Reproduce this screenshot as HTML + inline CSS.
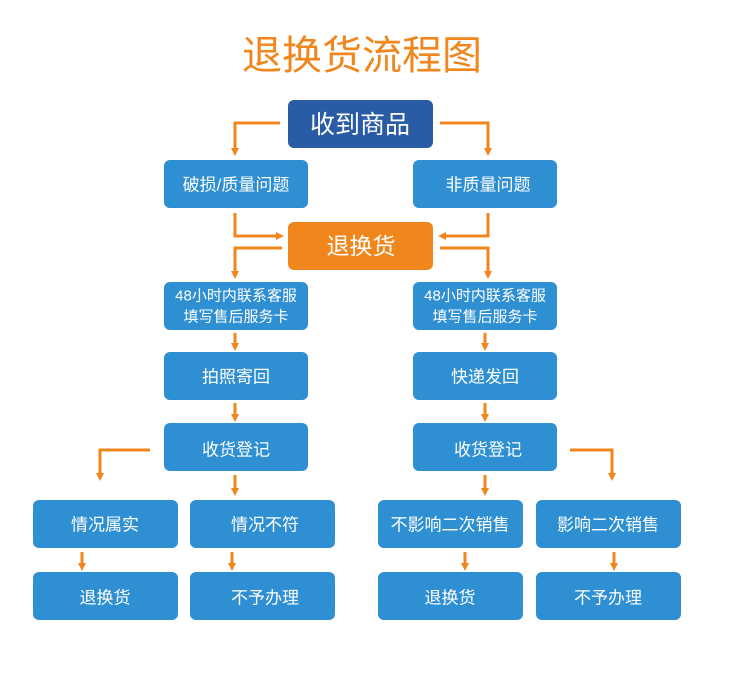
<!DOCTYPE html>
<html><head><meta charset="utf-8"><style>
html,body{margin:0;padding:0;background:#fff}
svg{display:block}
text{font-family:"Liberation Sans","Noto Sans CJK SC",sans-serif;fill:#fff;text-anchor:middle;dominant-baseline:central}
</style></head><body>
<svg width="753" height="681" viewBox="0 0 753 681" xmlns="http://www.w3.org/2000/svg">
<defs>
<marker id="a" markerWidth="8" markerHeight="8" refX="4" refY="4" orient="auto" markerUnits="userSpaceOnUse" viewBox="0 0 8 8"><path d="M0,0 L8,4 L0,8 Z" fill="#f0861c"/></marker>
</defs>
<text x="362" y="56" style="fill:#f0861c;font-size:40px">退换货流程图</text>
<g fill="#2e8fd3">
<rect x="288" y="100" width="145" height="48" rx="6" fill="#2a5ca6"/>
<rect x="164" y="160" width="144" height="48" rx="6"/>
<rect x="413" y="160" width="144" height="48" rx="6"/>
<rect x="288" y="222" width="145" height="48" rx="6" fill="#f0861c"/>
<rect x="164" y="282" width="144" height="48" rx="6"/>
<rect x="413" y="282" width="144" height="48" rx="6"/>
<rect x="164" y="352" width="144" height="48" rx="6"/>
<rect x="413" y="352" width="144" height="48" rx="6"/>
<rect x="164" y="423" width="144" height="48" rx="6"/>
<rect x="413" y="423" width="144" height="48" rx="6"/>
<rect x="33" y="500" width="145" height="48" rx="6"/>
<rect x="190" y="500" width="145" height="48" rx="6"/>
<rect x="378" y="500" width="145" height="48" rx="6"/>
<rect x="536" y="500" width="145" height="48" rx="6"/>
<rect x="33" y="572" width="145" height="48" rx="6"/>
<rect x="190" y="572" width="145" height="48" rx="6"/>
<rect x="378" y="572" width="145" height="48" rx="6"/>
<rect x="536" y="572" width="145" height="48" rx="6"/>
</g>
<g style="font-size:17px">
<text x="360" y="125" style="font-size:25px">收到商品</text>
<text x="236" y="185">破损/质量问题</text>
<text x="488" y="185">非质量问题</text>
<text x="361" y="246" style="font-size:23px">退换货</text>
<text x="236" y="296" style="font-size:15px">48小时内联系客服</text>
<text x="236" y="317" style="font-size:15px">填写售后服务卡</text>
<text x="485" y="296" style="font-size:15px">48小时内联系客服</text>
<text x="485" y="317" style="font-size:15px">填写售后服务卡</text>
<text x="236" y="377">拍照寄回</text>
<text x="485" y="377">快递发回</text>
<text x="236" y="450">收货登记</text>
<text x="488" y="450">收货登记</text>
<text x="105" y="525">情况属实</text>
<text x="265" y="525">情况不符</text>
<text x="450" y="525">不影响二次销售</text>
<text x="608" y="525">影响二次销售</text>
<text x="105" y="598">退换货</text>
<text x="265" y="598">不予办理</text>
<text x="450" y="598">退换货</text>
<text x="608" y="598">不予办理</text>
</g>
<g stroke="#f0861c" stroke-width="3" fill="none" marker-end="url(#a)">
<path d="M280,123 H235 V152"/>
<path d="M440,123 H488 V152"/>
<path d="M235,213 V236 H280"/>
<path d="M488,213 V236 H442"/>
<path d="M282,248 H235 V275"/>
<path d="M440,248 H488 V275"/>
<path d="M235,333 V347"/>
<path d="M485,333 V347"/>
<path d="M235,403 V418"/>
<path d="M485,403 V418"/>
<path d="M150,450 H100 V477"/>
<path d="M570,450 H612 V477"/>
<path d="M235,475 V492"/>
<path d="M485,475 V492"/>
<path d="M82,552 V567"/>
<path d="M232,552 V567"/>
<path d="M465,552 V567"/>
<path d="M614,552 V567"/>
</g>
</svg>
</body></html>
